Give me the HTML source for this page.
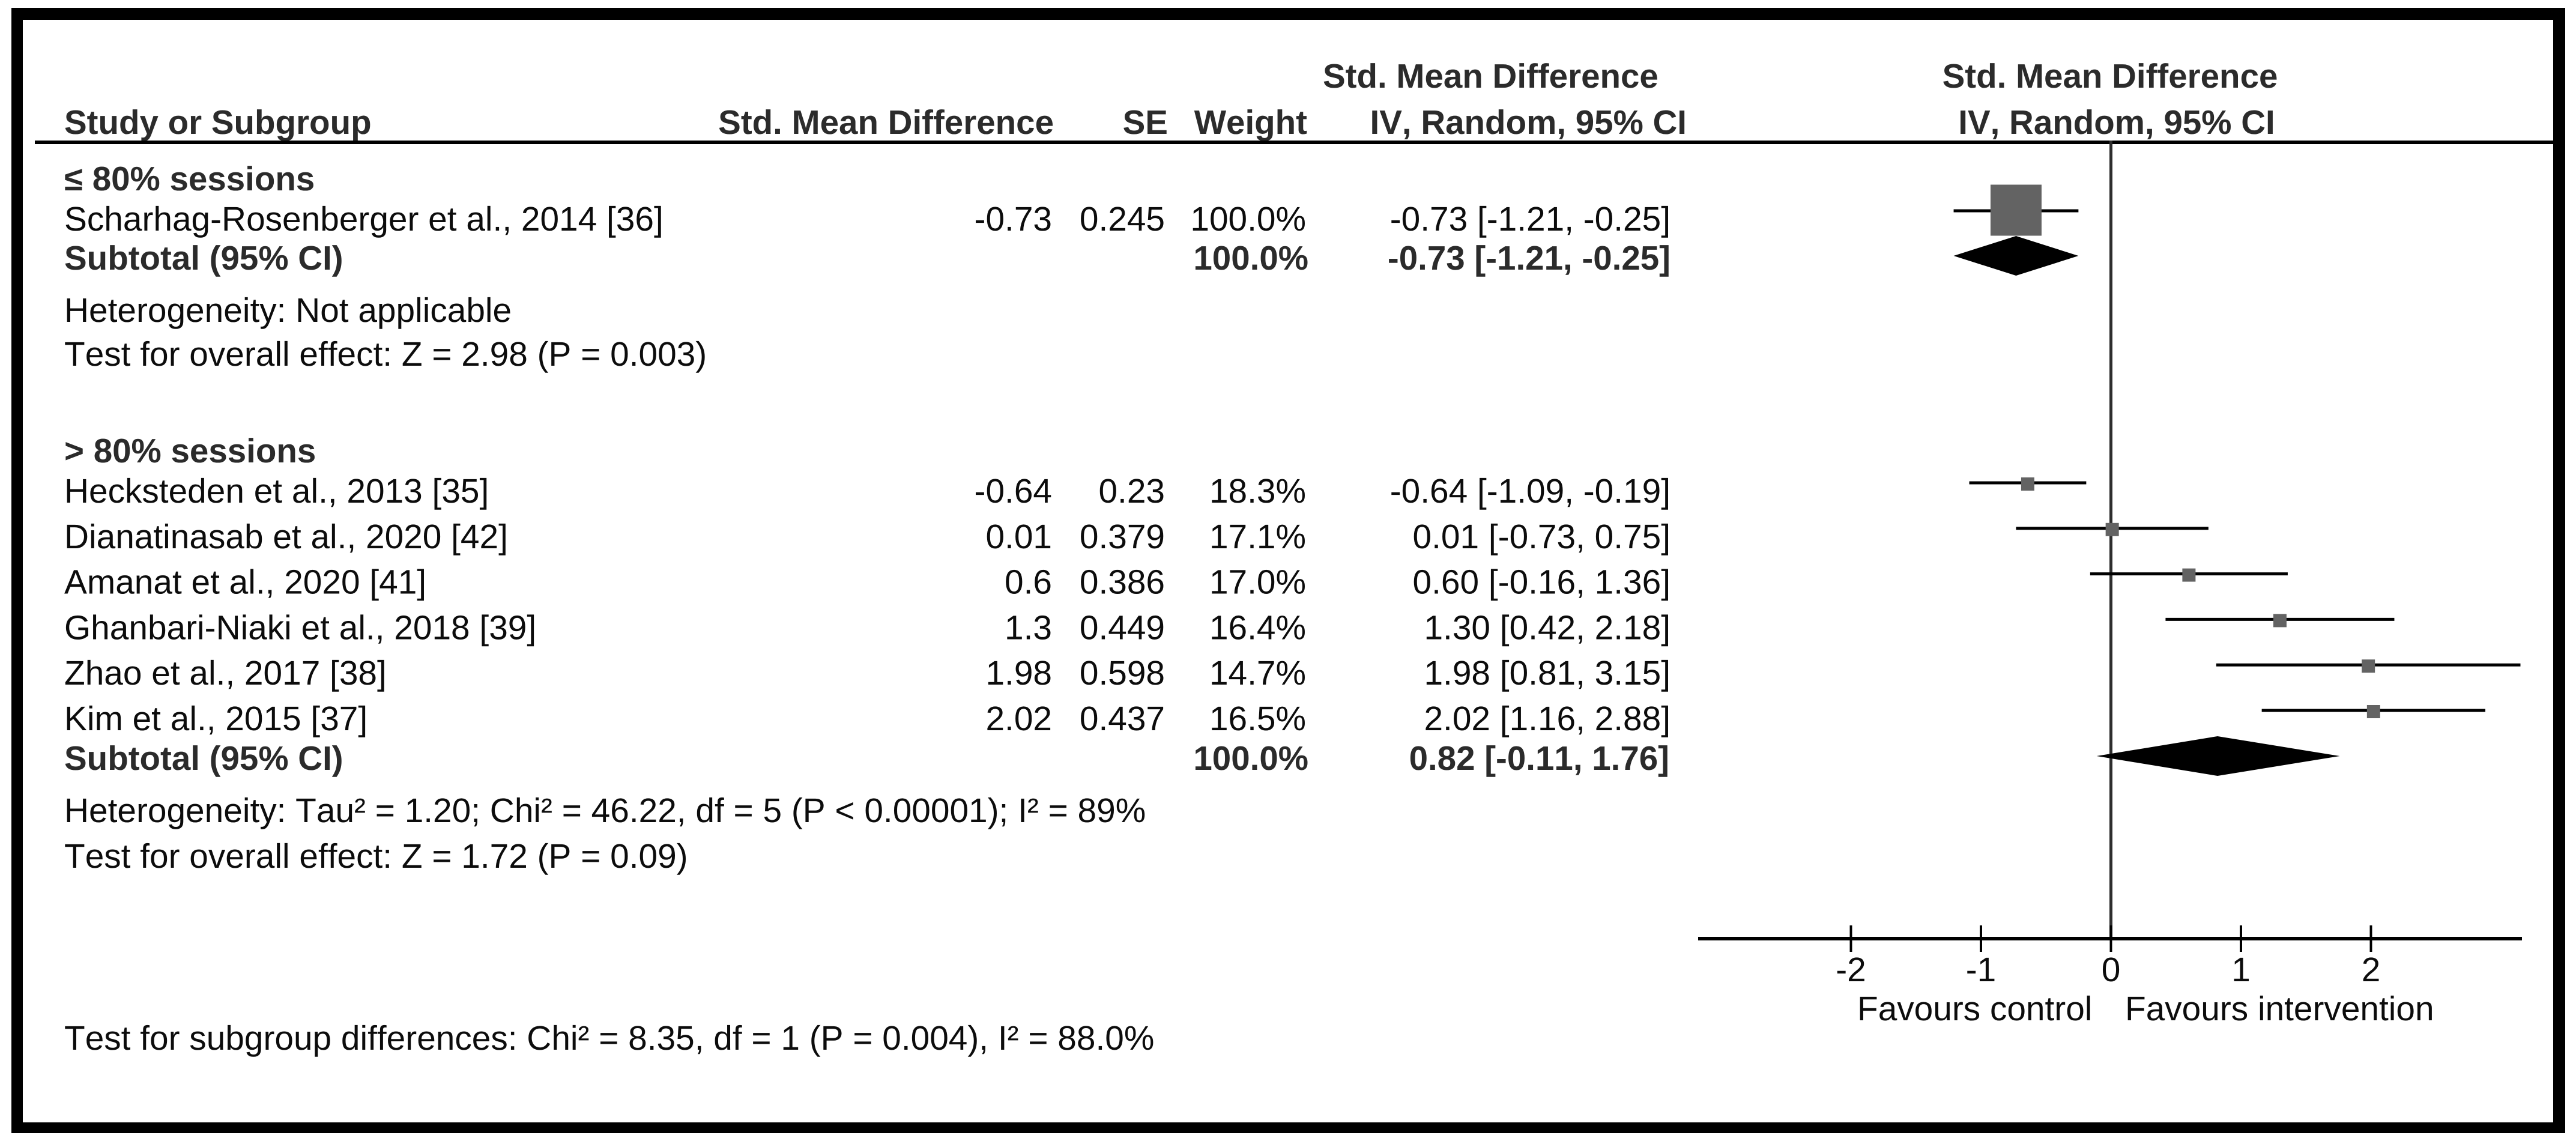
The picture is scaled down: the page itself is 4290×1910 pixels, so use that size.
<!DOCTYPE html>
<html lang="en">
<head>
<meta charset="utf-8">
<title>Forest plot</title>
<style>
html,body{margin:0;padding:0;background:#fff;width:4290px;height:1910px;overflow:hidden}
svg{display:block}
text{font-family:"Liberation Sans",Arial,sans-serif;font-size:56.8px;fill:#0c0c0c;text-rendering:geometricPrecision;font-kerning:none;font-variant-ligatures:none}
.b{font-weight:700;fill:#2b2b2b;font-size:56.5px}
</style>
</head>
<body>
<svg id="chart" xmlns="http://www.w3.org/2000/svg" width="4290" height="1910" viewBox="0 0 4290 1910">
  <rect x="19" y="13" width="4253" height="1874" fill="#000"/>
  <rect x="38" y="33" width="4214" height="1836" fill="#fff"/>

  <text class="b" x="107" y="223">Study or Subgroup</text>
  <text class="b" x="1755" y="223" text-anchor="end">Std. Mean Difference</text>
  <text class="b" x="1945" y="223" text-anchor="end">SE</text>
  <text class="b" x="2177" y="223" text-anchor="end">Weight</text>
  <text class="b" x="2203" y="146">Std. Mean Difference</text>
  <text class="b" x="2809" y="223" text-anchor="end">IV, Random, 95% CI</text>
  <text class="b" x="3514" y="146" text-anchor="middle">Std. Mean Difference</text>
  <text class="b" x="3525" y="223" text-anchor="middle">IV, Random, 95% CI</text>
  <rect x="58" y="234" width="4194" height="6" fill="#000"/>

  <text class="b" x="107" y="317">≤ 80% sessions</text>
  <text class="b" x="107" y="449">Subtotal (95% CI)</text>
  <text class="b" x="2179" y="449" text-anchor="end">100.0%</text>
  <text class="b" x="2782" y="449" text-anchor="end">-0.73 [-1.21, -0.25]</text>
  <text x="107" y="536">Heterogeneity: Not applicable</text>
  <text x="107" y="609">Test for overall effect: Z = 2.98 (P = 0.003)</text>

  <text class="b" x="107" y="770">&gt; 80% sessions</text>
  <text class="b" x="107" y="1282">Subtotal (95% CI)</text>
  <text class="b" x="2179" y="1282" text-anchor="end">100.0%</text>
  <text class="b" x="2780" y="1282" text-anchor="end">0.82 [-0.11, 1.76]</text>
  <text x="107" y="1369">Heterogeneity: Tau² = 1.20; Chi² = 46.22, df = 5 (P &lt; 0.00001); I² = 89%</text>
  <text x="107" y="1445">Test for overall effect: Z = 1.72 (P = 0.09)</text>
  <text x="107" y="1748">Test for subgroup differences: Chi² = 8.35, df = 1 (P = 0.004), I² = 88.0%</text>

  <text x="3093" y="1699">Favours control</text>
  <text x="3539" y="1699">Favours intervention</text>
  <g id="marks"></g>
</svg>
<script>
// Subgroup 1 (<= 80% sessions)
const studiesA = ['Scharhag-Rosenberger et al., 2014 [36]'];
const meansA = [-0.73];
const seA = ['0.245'];
const weightsA = [100.0];
const lowsA = [-1.21];
const highsA = [-0.25];
const subtotalA = [-0.73, -1.21, -0.25];

// Subgroup 2 (> 80% sessions)
const studiesB = ['Hecksteden et al., 2013 [35]', 'Dianatinasab et al., 2020 [42]', 'Amanat et al., 2020 [41]', 'Ghanbari-Niaki et al., 2018 [39]', 'Zhao et al., 2017 [38]', 'Kim et al., 2015 [37]'];
const meansB = [-0.64, 0.01, 0.6, 1.3, 1.98, 2.02];
const seB = ['0.23', '0.379', '0.386', '0.449', '0.598', '0.437'];
const weightsB = [18.3, 17.1, 17.0, 16.4, 14.7, 16.5];
const lowsB = [-1.09, -0.73, -0.16, 0.42, 0.81, 1.16];
const highsB = [-0.19, 0.75, 1.36, 2.18, 3.15, 2.88];
const subtotalB = [0.82, -0.11, 1.76];

const axisTicks = [-2, -1, 0, 1, 2];

const NS = 'http://www.w3.org/2000/svg';
const marks = document.getElementById('marks');
const xScale = function (v) { return 3515.5 + v * 216.5; };
const rowA = function (i) { return 351 + i * 75.7; };
const rowB = function (i) { return 804 + i * 75.8; };
const markerSize = function (w) { return w >= 100 ? 85 : 22; };
const fmt = function (v) { return v.toFixed(2); };

function make(tag, attrs) {
  const el = document.createElementNS(NS, tag);
  Object.keys(attrs).forEach(function (k) { el.setAttribute(k, attrs[k]); });
  marks.appendChild(el);
  return el;
}

function drawRow(study, mean, se, weight, low, high, y) {
  const base = y + 33;
  const label = make('text', { x: 107, y: base });
  
  
  label.textContent = study;

  const smd = make('text', { x: 1752, y: base, 'text-anchor': 'end' });
  
  
  smd.textContent = String(mean);

  const seText = make('text', { x: 1940, y: base, 'text-anchor': 'end' });
  
  
  seText.textContent = se;

  const wt = make('text', { x: 2175, y: base, 'text-anchor': 'end' });
  
  
  wt.textContent = weight.toFixed(1) + '%';

  const ci = make('text', { x: 2782, y: base, 'text-anchor': 'end' });
  
  
  ci.textContent = fmt(mean) + ' [' + fmt(low) + ', ' + fmt(high) + ']';

  const line = make('line', { x1: xScale(low), x2: xScale(high), y1: y, y2: y, stroke: '#000', 'stroke-width': 5 });
  
  

  const size = markerSize(weight);
  const cy = weight >= 100 ? y - 1 : y + 2;
  const box = make('rect', { x: xScale(mean) - size / 2, y: cy - size / 2, width: size, height: size, fill: '#636363' });
  
  
}

function drawDiamond(values, cy, halfHeight) {
  const pts = [
    [xScale(values[1]), cy], [xScale(values[0]), cy - halfHeight],
    [xScale(values[2]), cy], [xScale(values[0]), cy + halfHeight]
  ].map(function (p) { return p.join(','); }).join(' ');
  const d = make('polygon', { points: pts, fill: '#000' });
  
  
}

// zero line
const zero = make('line', { x1: xScale(0), x2: xScale(0), y1: 234, y2: 1563, stroke: '#2e2e2e', 'stroke-width': 5 });



studiesA.forEach(function (s, i) {
  drawRow(s, meansA[i], seA[i], weightsA[i], lowsA[i], highsA[i], rowA(i));
});
studiesB.forEach(function (s, i) {
  drawRow(s, meansB[i], seB[i], weightsB[i], lowsB[i], highsB[i], rowB(i));
});
drawDiamond(subtotalA, 426, 33);
drawDiamond(subtotalB, 1259, 33);

// x axis
const axis = make('line', { x1: 2828, x2: 4200, y1: 1563, y2: 1563, stroke: '#000', 'stroke-width': 6 });



axisTicks.forEach(function (t) {
  const tick = make('line', { x1: xScale(t), x2: xScale(t), y1: 1541, y2: 1585, stroke: '#000', 'stroke-width': 4 });
  
  
  const lab = make('text', { x: xScale(t), y: 1634, 'text-anchor': 'middle' });
  
  
  lab.textContent = String(t);
});
</script>
</body>
</html>
